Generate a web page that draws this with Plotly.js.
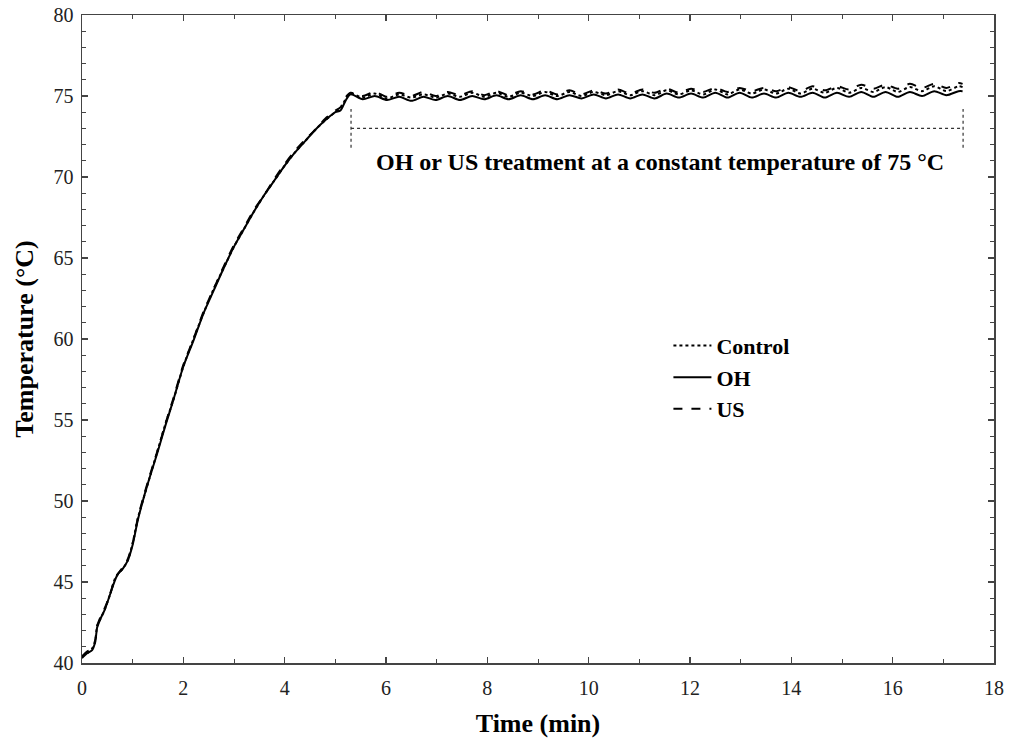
<!DOCTYPE html>
<html><head><meta charset="utf-8">
<script src="https://cdn.plot.ly/plotly-3.0.1.min.js"></script>
<style>body{margin:0;background:#fff}#chart{width:1010px;height:740px}</style>
</head><body><div id="chart"></div>
<script>
// Heating phase (min)
const heatTime = [0,0.1,0.2,0.26,0.3,0.36,0.45,0.55,0.65,0.71,0.8,0.9,1.0,1.1,1.2,1.35,1.5,1.65,1.8,2.0,2.2,2.4,2.6,2.8,3.0,3.2,3.4,3.6,3.8,4.0,4.2,4.4,4.6,4.8,5.0,5.1,5.2];
const heatControl = [40.4,40.6,40.9,41.3,42.3,42.7,43.3,44.2,45.2,45.5,45.8,46.3,47.4,48.9,50.0,51.6,53.2,54.8,56.2,58.3,60.0,61.6,63.1,64.4,65.7,66.8,67.9,68.9,69.8,70.7,71.5,72.2,72.9,73.5,74.0,74.2,74.8];
const heatOH = [40.3,40.6,40.8,41.3,42.2,42.7,43.3,44.2,45.1,45.5,45.8,46.3,47.3,48.8,50.0,51.6,53.1,54.7,56.2,58.3,59.9,61.6,63.0,64.4,65.7,66.8,67.9,68.9,69.8,70.7,71.5,72.2,72.9,73.5,74.0,74.1,74.7];
const heatUS = [40.4,40.7,40.9,41.4,42.3,42.8,43.4,44.2,45.2,45.5,45.9,46.4,47.4,48.9,50.1,51.7,53.2,54.8,56.3,58.4,60.0,61.7,63.1,64.5,65.8,66.9,68.0,68.9,69.9,70.8,71.6,72.3,72.9,73.6,74.1,74.3,74.9];
// Constant-temperature phase (min)
const holdTime = [5.30,5.54,5.78,6.02,6.26,6.50,6.74,6.98,7.22,7.46,7.70,7.94,8.18,8.42,8.66,8.90,9.14,9.38,9.62,9.86,10.10,10.34,10.58,10.82,11.06,11.30,11.54,11.78,12.02,12.26,12.50,12.74,12.98,13.22,13.46,13.70,13.94,14.18,14.42,14.66,14.90,15.14,15.38,15.62,15.86,16.10,16.34,16.58,16.82,17.06,17.30,17.38];
const holdOH = [75.1,74.8,75.0,74.75,74.95,74.7,74.95,74.75,75.0,74.75,75.0,74.8,75.05,74.8,75.05,74.8,75.05,74.8,75.05,74.85,75.1,74.85,75.1,74.85,75.1,74.85,75.15,74.9,75.15,74.9,75.2,74.9,75.2,74.9,75.15,74.9,75.2,74.95,75.2,74.9,75.2,74.95,75.25,74.95,75.25,74.95,75.25,75.0,75.3,75.05,75.3,75.3];
const holdUS = [75.2,75.0,75.25,74.95,75.2,75.0,75.25,75.0,75.25,75.05,75.3,75.05,75.3,75.05,75.3,75.1,75.35,75.1,75.35,75.1,75.35,75.15,75.4,75.15,75.4,75.2,75.45,75.2,75.45,75.25,75.5,75.25,75.5,75.3,75.5,75.3,75.55,75.3,75.6,75.35,75.6,75.4,75.7,75.45,75.7,75.45,75.75,75.5,75.75,75.5,75.8,75.75];
const holdControl = [75.15,74.9,75.15,74.85,75.1,74.9,75.1,74.9,75.15,74.95,75.2,74.95,75.2,74.95,75.2,75.0,75.25,75.0,75.25,75.0,75.25,75.05,75.3,75.05,75.3,75.05,75.35,75.1,75.35,75.1,75.4,75.1,75.4,75.15,75.4,75.15,75.45,75.15,75.45,75.2,75.5,75.2,75.5,75.25,75.55,75.25,75.55,75.3,75.6,75.3,75.6,75.55];
const seriesNames = ['Control','OH','US'];
// bracket marking the treatment period
const bracketStart = 5.31, bracketEnd = 17.39, bracketLevel = 73, bracketTop = 74.2, bracketBottom = 71.8;
const noteText = 'OH or US treatment at a constant temperature of 75 °C';
const noteX = 11.4, noteY = 70.9;

const serif = '"Liberation Serif", "Times New Roman", serif';
const time = heatTime.concat(holdTime);
const mk = (name, y, dash) => ({
  x: time, y: y, name: name, type: 'scatter', mode: 'lines',
  line: {color: '#000', width: 2, dash: dash, shape: 'spline', smoothing: 0.8}
});
const traces = [
  mk(seriesNames[0], heatControl.concat(holdControl), 'dot'),
  mk(seriesNames[1], heatOH.concat(holdOH), 'solid'),
  mk(seriesNames[2], heatUS.concat(holdUS), 'dash')
];
const axisCommon = {
  showgrid: false, zeroline: false, showline: true, linecolor: '#444', linewidth: 1.5,
  mirror: 'allticks', ticks: 'inside', ticklen: 6, tickwidth: 1.2, tickcolor: '#444',
  tickfont: {family: serif, size: 20, color: '#222'},
  minor: {ticks: 'inside', ticklen: 4, tickwidth: 1, tickcolor: '#444', dtick: 1}
};
const layout = {
  width: 1010, height: 740,
  margin: {l: 82, r: 16, t: 15, b: 77},
  paper_bgcolor: '#fff', plot_bgcolor: '#fff',
  showlegend: true,
  legend: {x: 0.643, y: 0.522, xanchor: 'left', yanchor: 'top', bgcolor: 'rgba(0,0,0,0)',
    itemwidth: 38, tracegroupgap: 0,
    font: {family: serif, size: 22, color: '#000', weight: 700}},
  xaxis: Object.assign({}, axisCommon, {range: [0, 18], dtick: 2, tick0: 0, ticklabelstandoff: 6,
    title: {text: 'Time (min)', font: {family: serif, size: 26, color: '#000', weight: 700}, standoff: 16}}),
  yaxis: Object.assign({}, axisCommon, {range: [40, 80], dtick: 5, tick0: 40, ticklabelstandoff: 3,
    title: {text: 'Temperature (°C)', font: {family: serif, size: 26, color: '#000', weight: 700}, standoff: 12}}),
  shapes: [
    {type: 'line', xref: 'x', yref: 'y', x0: bracketStart, x1: bracketEnd, y0: bracketLevel, y1: bracketLevel, line: {color: '#333', width: 1.2, dash: 'dot'}},
    {type: 'line', xref: 'x', yref: 'y', x0: bracketStart, x1: bracketStart, y0: bracketBottom, y1: bracketTop, line: {color: '#333', width: 1.2, dash: 'dot'}},
    {type: 'line', xref: 'x', yref: 'y', x0: bracketEnd, x1: bracketEnd, y0: bracketBottom, y1: bracketTop, line: {color: '#333', width: 1.2, dash: 'dot'}}
  ],
  annotations: [
    {x: noteX, y: noteY, xref: 'x', yref: 'y', text: noteText, showarrow: false,
     font: {family: serif, size: 24, color: '#000', weight: 700}}
  ]
};
Plotly.newPlot('chart', traces, layout, {displayModeBar: false, staticPlot: true});
</script></body></html>
